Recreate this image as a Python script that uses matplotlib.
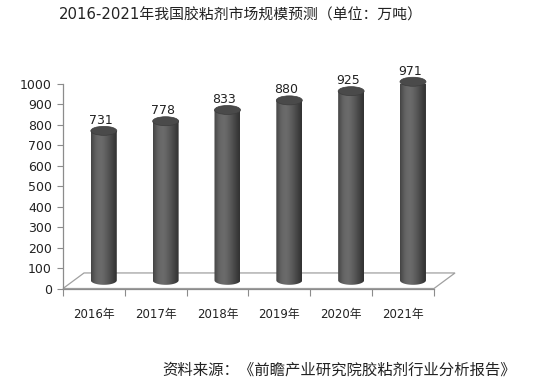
import numpy as np
import matplotlib
matplotlib.use("Agg")
import matplotlib.pyplot as plt
from matplotlib.path import Path
from matplotlib.patches import PathPatch, Ellipse, Polygon

plt.rcParams['font.family'] = ['DejaVu Sans', 'Noto Sans CJK SC']

years = ['2016年', '2017年', '2018年', '2019年', '2020年', '2021年']
values = [731, 778, 833, 880, 925, 971]
title = '2016-2021年我国胶粘剂市场规模预测（单位：万吨）'
source = '资料来源：《前瞻产业研究院胶粘剂行业分析报告》'
yticks = list(range(0, 1001, 100))

fig = plt.figure(figsize=(5.41, 3.85), dpi=100)
ax = fig.add_axes([63/541, 1-288.5/385, 371/541, 204.5/385])
ax.set_xlim(-0.5, 5.5)
ax.set_ylim(0, 1000)

axis_col = '#8c8c8c'
# floor (3D depth)
ddx, ddy = 0.34, 76
floor = Polygon([(-0.5, 0), (5.5, 0), (5.5 + ddx, ddy), (-0.5 + ddx, ddy)],
                closed=True, facecolor='white', edgecolor='#a0a0a0', lw=0.9,
                clip_on=False, zorder=1)
ax.add_patch(floor)

dx, dy = 0.16, 40
w = 0.42
eh = 44  # ellipse full height in data units

# horizontal gradient for cylinder body
grad_vals = np.array([0.27, 0.33, 0.38, 0.41, 0.42, 0.41, 0.38, 0.35, 0.31, 0.27, 0.23, 0.20])
xs_src = np.linspace(0, 1, len(grad_vals))
xs = np.linspace(0, 1, 64)
g = np.interp(xs, xs_src, grad_vals)
img = np.tile(g, (2, 1))

for i, v in enumerate(values):
    cx = i + dx
    y0 = dy
    y1 = v + dy
    left, right = cx - w/2, cx + w/2
    t = np.linspace(np.pi, 2*np.pi, 40)
    arc = np.column_stack([cx + (w/2)*np.cos(t), y0 + (eh/2)*np.sin(t)])
    verts = [(left, y1)] + arc.tolist() + [(right, y1), (left, y1)]
    codes = [Path.MOVETO] + [Path.LINETO]*(len(verts)-2) + [Path.CLOSEPOLY]
    body = PathPatch(Path(verts, codes), facecolor='none', edgecolor='none', zorder=3,
                     clip_on=False)
    ax.add_patch(body)
    im = ax.imshow(img, extent=[left, right, y0 - eh/2, y1], aspect='auto',
                   cmap='gray', vmin=0, vmax=1, zorder=3, interpolation='bilinear')
    im.set_clip_path(body)
    im.set_clip_box(None)
    top = Ellipse((cx, y1), w, eh, facecolor='#4a4a4a', edgecolor='#3c3c3c', lw=0.5,
                  zorder=4, clip_on=False)
    ax.add_patch(top)
    ax.text(cx - 0.05, y1 + 52, str(v), ha='center', va='center', fontsize=9,
            color='#222222', zorder=5)

ax.set_xlim(-0.5, 5.5)
ax.set_ylim(0, 1000)

for s in ['top', 'right']:
    ax.spines[s].set_visible(False)
for s in ['left', 'bottom']:
    ax.spines[s].set_color(axis_col)
    ax.spines[s].set_linewidth(0.9)
ax.spines['bottom'].set_zorder(2)

ax.set_yticks(yticks)
ax.set_yticklabels([str(t) for t in yticks], fontsize=9, color='#222222')
ax.set_xticks(np.arange(-0.5, 6, 1), minor=False)
ax.set_xticklabels([''] * 7)
ax.set_xticks(np.arange(6), minor=True)
ax.set_xticklabels(years, minor=True, fontsize=8.5, color='#222222')
ax.tick_params(axis='x', which='major', direction='out', length=5, color=axis_col)
ax.tick_params(axis='x', which='minor', length=0, pad=14)
ax.tick_params(axis='y', direction='out', length=4, color=axis_col, pad=4)

fig.text(241/541, 1 - 15/385, title, ha='center', va='center', fontsize=10.7, color='#222222',
         family=['DejaVu Sans', 'Noto Sans CJK SC'])
fig.text(516/541, 1 - 370/385, source, ha='right', va='center', fontsize=11.1, color='#222222',
         family=['Noto Sans CJK SC', 'DejaVu Sans'])

fig.savefig('out.png', dpi=100)
